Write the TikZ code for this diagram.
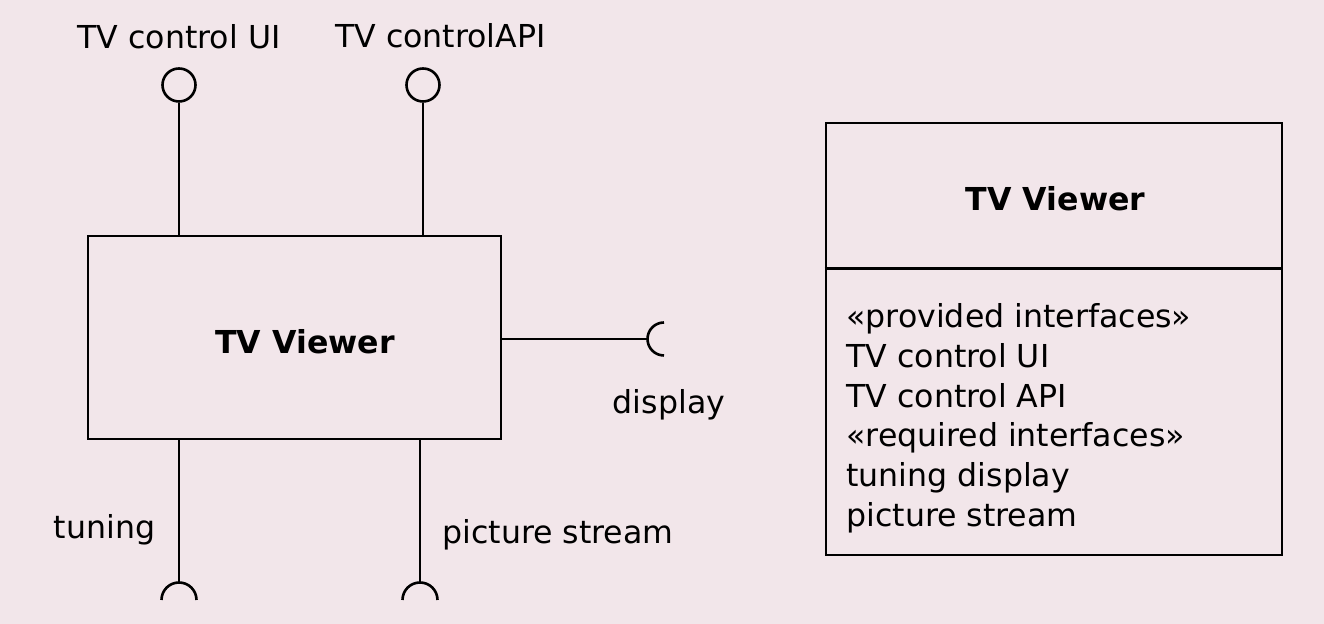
\documentclass[tikz,border=0pt]{standalone}
\usepackage{fontspec}
\setmainfont{DejaVu Sans}
\usepackage{xcolor}
\usepackage{tikz}
\usetikzlibrary{positioning,calc}
\definecolor{bgpink}{RGB}{242,230,234}

\begin{document}
\begin{tikzpicture}[
    x=0.5pt,y=0.5pt,
    every node/.style={font=\fontsize{15.8}{19.9}\selectfont,inner sep=0pt},
    compbox/.style  ={rectangle,draw=black,line width=1.3pt,
                     minimum width=206.5pt,minimum height=101.5pt},
    classbox/.style ={rectangle,draw=black,line width=1.3pt,
                     minimum width=228pt,minimum height=216pt},
    ball/.style     ={circle,draw=black,line width=1.3pt,
                     minimum size=16.5pt,inner sep=0pt},
    wire/.style     ={-,black,line width=1.3pt},
    compname/.style ={anchor=base,font=\fontsize{15.8}{19.9}\selectfont\bfseries},
    ifname/.style   ={anchor=base},
    listline/.style ={anchor=base west},
  ]
  % --- canvas ---
  \fill[bgpink] (0,0) rectangle (1324,624);
  \useasboundingbox (0,0) rectangle (1324,624);

  % --- component with its ports ---
  \node[compbox]  (viewer)     at (294.5,286.5) {};
  \node[compname] (viewername) at (305,270) {TV Viewer};

  % provided (lollipops on top)
  \node[ball]   (uiball)  at (179,539) {};
  \node[ball]   (apiball) at (423,539) {};
  \draw[wire] (uiball.south)  -- (uiball.south |- viewer.north);
  \draw[wire] (apiball.south) -- (apiball.south |- viewer.north);
  \node[ifname] (uilabel)  at (179,575)   {TV control UI};
  \node[ifname] (apilabel) at (440.5,576) {TV controlAPI};

  % required (sockets)
  \coordinate (dispend)   at (647.5,285);
  \coordinate (tuneend)   at (179,41.5);
  \coordinate (streamend) at (420,41.5);
  \draw[wire] (viewer.east |- dispend) -- (dispend);
  \draw[wire] (dispend) ++(16.5,16.5) arc[start angle=90,end angle=270,radius=16.5];
  \draw[wire] (viewer.south -| tuneend) -- (tuneend);
  \draw[wire] (tuneend) ++(17.5,-17.5) arc[start angle=0,end angle=180,radius=17.5];
  \draw[wire] (viewer.south -| streamend) -- (streamend);
  \draw[wire] (streamend) ++(17.5,-17.5) arc[start angle=0,end angle=180,radius=17.5];
  \node[ifname] (displabel)   at (669,210)   {display};
  \node[ifname] (tunelabel)   at (104.5,85)  {tuning};
  \node[ifname] (streamlabel) at (558,80)    {picture stream};

  % --- class-style notation on the right ---
  \node[classbox] (viewerclass) at (1054,285) {};
  \draw[wire] ($(viewerclass.north west)+(0,-147)$) -- ($(viewerclass.north east)+(0,-147)$);
  \node[compname] (classname) at (1055.5,413) {TV Viewer};
  \node[listline] (ln1) at (846,296.5) {«provided interfaces»};
  \node[listline] (ln2) at (846,256.7) {TV control UI};
  \node[listline] (ln3) at (846,216.9) {TV control API};
  \node[listline] (ln4) at (846,177.1) {«required interfaces»};
  \node[listline] (ln5) at (846,137.3) {tuning display};
  \node[listline] (ln6) at (846,97.5)  {picture stream};
\end{tikzpicture}
\end{document}
